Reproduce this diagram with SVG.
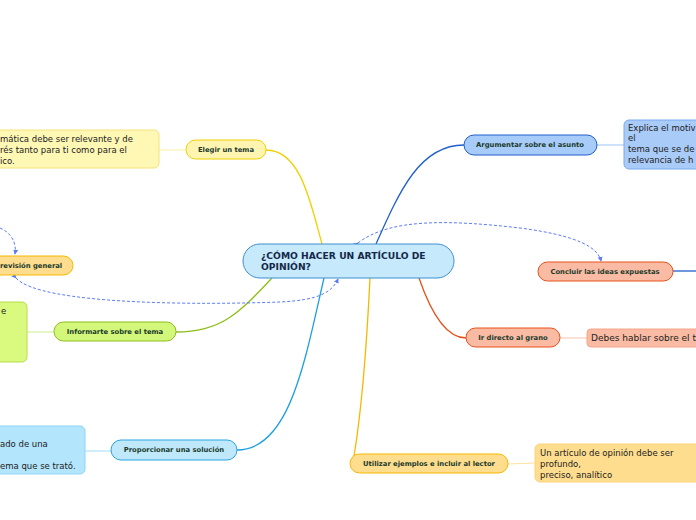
<svg xmlns="http://www.w3.org/2000/svg" width="696" height="520" viewBox="0 0 696 520">
<style>
.lbl{font-family:"DejaVu Sans",Verdana,sans-serif;font-size:6.8px;font-weight:bold;fill:#1b3a2c;text-anchor:middle}
.note{font-family:"DejaVu Sans",Verdana,sans-serif;font-size:8.5px;fill:#222}
.title{font-family:"DejaVu Sans",Verdana,sans-serif;font-size:9.2px;font-weight:bold;fill:#15284a}
.c{fill:none;stroke-width:1.3}
.dash{fill:none;stroke:#5b7cf5;stroke-width:1;stroke-dasharray:3,2}
</style>
<defs>
<marker id="arr" viewBox="0 0 6 6" refX="5" refY="3" markerWidth="5" markerHeight="5" orient="auto">
<path d="M0,0 L6,3 L0,6 z" fill="#5b7cf5"/>
</marker>
</defs>
<rect width="696" height="520" fill="#ffffff"/>
<g id="connectors">
<path class="c" stroke="#f0d000" d="M322,244 C310,200 300,150 266,150"/>
<path class="c" stroke="#1f5fcc" d="M376,244 C400,190 420,145 464,145"/>
<path class="c" stroke="#e8501a" d="M419,278 C430,310 445,338 466,338"/>
<path class="c" stroke="#f5b800" d="M370,278 C366,360 360,420 354,456"/>
<path class="c" stroke="#1ea0e0" d="M324,278 C305,360 290,450 237,450"/>
<path class="c" stroke="#8cbf1a" d="M272,278 C240,312 222,332 176,332"/>
<path class="c" stroke="#1f5fcc" d="M673,271 L696,271"/>
<path stroke="#fbf0a0" stroke-width="1" d="M159,150 L186,150"/>
<path stroke="#9ec2f5" stroke-width="1" d="M597,145 L624,145"/>
<path stroke="#c9ee8a" stroke-width="1" d="M27,332 L54,332"/>
<path stroke="#9fdcf7" stroke-width="1" d="M85,451 L111,451"/>
<path stroke="#f8c2ad" stroke-width="1" d="M560,338 L587,338"/>
<path stroke="#fde2a0" stroke-width="1" d="M508,464 L535,463"/>
<path class="dash" marker-end="url(#arr)" d="M0,228 C10,232 17,242 15,254"/>
<path class="dash" marker-start="url(#arr)" marker-end="url(#arr)" d="M16,278 C40,305 200,305 280,302 C320,300 332,292 338,279"/>
<path class="dash" marker-start="url(#arr)" marker-end="url(#arr)" d="M358,243 C390,218 450,220 520,228 C580,236 598,248 601,261"/>
</g>
<g id="central">
<rect x="243" y="244" width="211" height="34" rx="17" fill="#c6e9fb" stroke="#3c8fd0" stroke-width="1"/>
<text class="title" x="261" y="259">¿CÓMO HACER UN ARTÍCULO DE</text>
<text class="title" x="261" y="270">OPINIÓN?</text>
</g>
<g id="elegir">
<rect x="186" y="140" width="80" height="19" rx="9.5" fill="#fff5b0" stroke="#f0d000"/>
<text class="lbl" x="226" y="152">Elegir un tema</text>
</g>
<g id="elegir-note">
<rect x="-10" y="130" width="169" height="38" rx="5" fill="#fff8b5" stroke="#f5e27a"/>
<text class="note" x="0" y="142">mática debe ser relevante y de</text>
<text class="note" x="0" y="153">rés tanto para ti como para el</text>
<text class="note" x="0" y="164">ico.</text>
</g>
<g id="revision">
<rect x="-20" y="256" width="93" height="19" rx="9.5" fill="#fedd8e" stroke="#f5b800"/>
<text class="lbl" x="0" y="268" style="text-anchor:start">revisión general</text>
</g>
<g id="informarte-note">
<rect x="-10" y="302" width="37" height="60" rx="5" fill="#d9f97f" stroke="#b5e04a"/>
<text class="note" x="1" y="314">e</text>
</g>
<g id="informarte">
<rect x="54" y="322" width="122" height="19" rx="9.5" fill="#d3f77a" stroke="#8cbf1a"/>
<text class="lbl" x="115" y="334">Informarte sobre el tema</text>
</g>
<g id="proporcionar-note">
<rect x="-10" y="426" width="95" height="48" rx="5" fill="#b3e5fc" stroke="#8fd3f5"/>
<text class="note" x="0" y="447">ado de una</text>
<text class="note" x="0" y="469">ema que se trató.</text>
</g>
<g id="proporcionar">
<rect x="111" y="440" width="126" height="20" rx="10" fill="#bfe8fb" stroke="#2ba5e0"/>
<text class="lbl" x="174" y="452">Proporcionar una solución</text>
</g>
<g id="argumentar">
<rect x="464" y="135" width="133" height="20" rx="10" fill="#a8ccf9" stroke="#1f5fcc"/>
<text class="lbl" x="530" y="147">Argumentar sobre el asunto</text>
</g>
<g id="argumentar-note">
<rect x="624" y="120" width="90" height="49" rx="5" fill="#a9cbf8" stroke="#7aaaf0"/>
<text class="note" x="628" y="131">Explica el motiv</text>
<text class="note" x="628" y="141">el</text>
<text class="note" x="628" y="152">tema que se de</text>
<text class="note" x="628" y="163">relevancia de h</text>
</g>
<g id="concluir">
<rect x="538" y="262" width="135" height="19" rx="9.5" fill="#f9bba3" stroke="#e8501a"/>
<text class="lbl" x="605" y="274">Concluir las ideas expuestas</text>
</g>
<g id="grano">
<rect x="466" y="328" width="94" height="19" rx="9.5" fill="#f9bba3" stroke="#e8501a"/>
<text class="lbl" x="513" y="340">Ir directo al grano</text>
</g>
<g id="grano-note">
<rect x="587" y="329" width="120" height="18" rx="4" fill="#f9bba3" stroke="#f5a68a"/>
<text class="note" x="591" y="341" style="font-size:9px">Debes hablar sobre el t</text>
</g>
<g id="utilizar">
<rect x="350" y="454" width="158" height="19" rx="9.5" fill="#fedd8e" stroke="#f5b800"/>
<text class="lbl" x="429" y="466">Utilizar ejemplos e incluir al lector</text>
</g>
<g id="utilizar-note">
<rect x="535" y="444" width="175" height="38" rx="5" fill="#fedd8e" stroke="#fcd37a"/>
<text class="note" x="540" y="456">Un artículo de opinión debe ser</text>
<text class="note" x="540" y="467">profundo,</text>
<text class="note" x="540" y="478">preciso, analítico</text>
</g>
</svg>
